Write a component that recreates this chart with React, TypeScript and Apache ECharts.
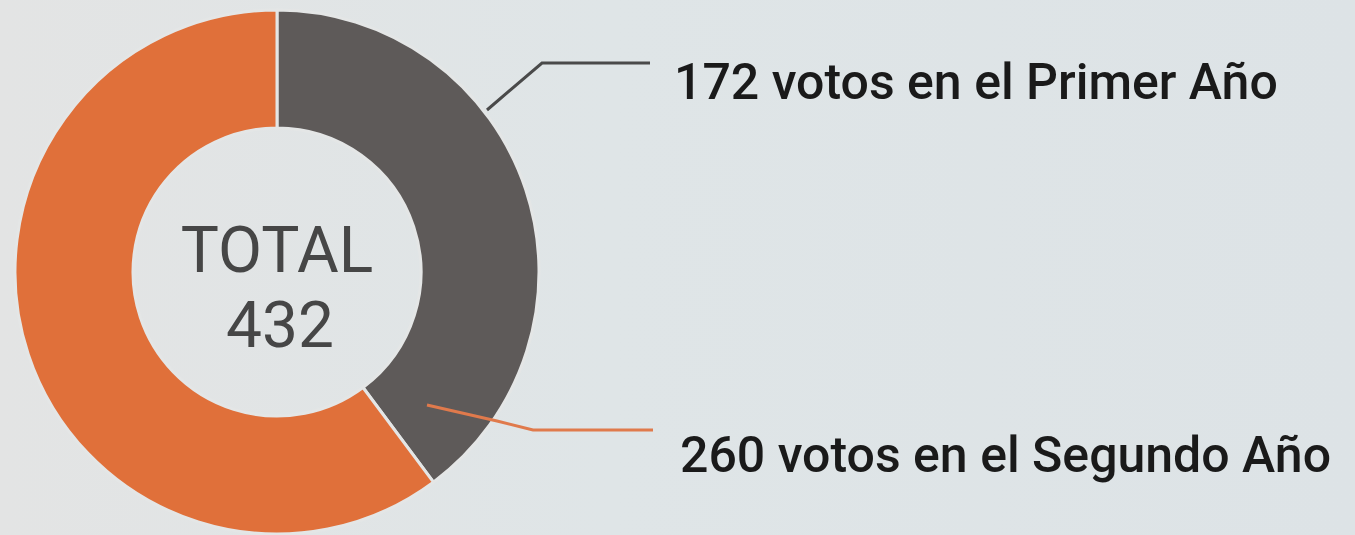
import React, { useEffect, useRef } from "react";
import * as echarts from "echarts";

const categories = ["Primer Año", "Segundo Año"];
const votes = [172, 260];
const colors = ["#5e5a59", "#e0703a"];
const lineColors = ["#4a4a4a", "#e07a4c"];
const totalLabel = "TOTAL";

export default function App() {
  const ref = useRef<HTMLDivElement>(null);
  useEffect(() => {
    document.body.style.margin = "0";
    const chart = echarts.init(ref.current!, null, { renderer: "svg" });
    const total = votes.reduce((a, b) => a + b, 0);
    const font = "Roboto, 'DejaVu Sans Condensed', sans-serif";
    chart.setOption({
      animation: false,
      backgroundColor: {
        type: "linear",
        x: 0, y: 0, x2: 1, y2: 0,
        colorStops: [
          { offset: 0, color: "#e3e4e4" },
          { offset: 0.45, color: "#dfe5e7" },
          { offset: 1, color: "#dde3e6" },
        ],
      },
      series: [
        {
          type: "pie",
          center: [277, 272],
          radius: [144, 262],
          startAngle: 90,
          clockwise: true,
          label: { show: false },
          labelLine: { show: false },
          emphasis: { disabled: true },
          itemStyle: { borderColor: "#e4e6e6", borderWidth: 3 },
          data: categories.map((c, i) => ({
            name: c,
            value: votes[i],
            itemStyle: { color: colors[i] },
          })),
        },
      ],
      graphic: [
        {
          type: "text",
          x: 277, y: 250, z: 10,
          style: {
            text: totalLabel,
            font: `400 64px ${font}`,
            fill: "#464646",
            align: "center",
            verticalAlign: "middle",
          },
        },
        {
          type: "text",
          x: 280, y: 325, z: 10,
          style: {
            text: String(total),
            font: `400 64px ${font}`,
            fill: "#464646",
            align: "center",
            verticalAlign: "middle",
          },
        },
        {
          type: "polyline",
          z: 10,
          shape: { points: [[487, 110], [542, 63], [650, 63]] },
          style: { stroke: lineColors[0], lineWidth: 3, fill: null },
        },
        {
          type: "polyline",
          z: 10,
          shape: { points: [[427, 405], [497, 421], [533, 430], [653, 430]] },
          style: { stroke: lineColors[1], lineWidth: 3, fill: null },
        },
        {
          type: "text",
          x: 674, y: 82, z: 10,
          style: {
            text: `${votes[0]} votos en el ${categories[0]}`,
            font: `500 50px ${font}`,
            fill: "#1a1a1a",
            align: "left",
            verticalAlign: "middle",
          },
        },
        {
          type: "text",
          x: 680, y: 455, z: 10,
          style: {
            text: `${votes[1]} votos en el ${categories[1]}`,
            font: `500 50px ${font}`,
            fill: "#1a1a1a",
            align: "left",
            verticalAlign: "middle",
          },
        },
      ],
    });
    return () => chart.dispose();
  }, []);
  return <div ref={ref} style={{ width: 1355, height: 535 }} />;
}
